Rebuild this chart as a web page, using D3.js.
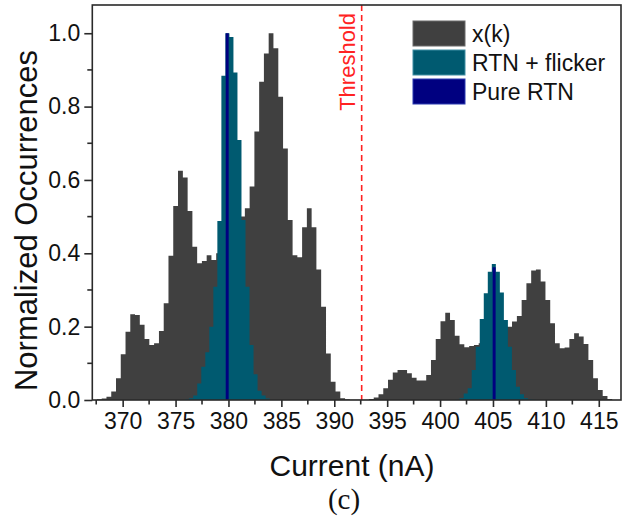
<!DOCTYPE html>
<html><head><meta charset="utf-8">
<script src="https://cdn.jsdelivr.net/npm/d3@7"></script>
<style>body{margin:0;background:#fff} svg{display:block}</style>
</head><body><svg id="c" width="622" height="517"></svg>
<script>
// ---------------- data ----------------
const grayBinWidth = 0.451;
const grayBinStart = [
 367.57, 368.02, 368.47, 368.92, 369.37, 369.82, 370.27, 370.72, 371.17, 371.62,
 372.07, 372.52, 372.97, 373.43, 373.88, 374.33, 374.78, 375.23, 375.69, 376.14,
 376.59, 377.04, 377.49, 377.94, 378.39, 378.84, 379.29, 379.74, 380.20, 380.65,
 381.10, 381.55, 382.00, 382.45, 382.90, 383.35, 383.80, 384.25, 384.71, 385.16,
 385.61, 386.06, 386.51, 386.96, 387.41, 387.86, 388.31, 388.76, 389.22, 389.67,
 390.12, 390.57, 391.02, 391.47, 391.92, 392.37, 392.82, 393.27, 393.73, 394.18,
 394.63, 395.08, 395.53, 395.98, 396.43, 396.88, 397.33, 397.78, 398.24, 398.69,
 399.14, 399.59, 400.04, 400.49, 400.94, 401.39, 401.84, 402.29, 402.75, 403.20,
 403.65, 404.10, 404.55, 405.00, 405.45, 405.90, 406.35, 406.80, 407.26, 407.71,
 408.16, 408.61, 409.06, 409.51, 409.96, 410.41, 410.86, 411.31, 411.77, 412.22,
 412.67, 413.12, 413.57, 414.02, 414.47, 414.92, 415.37, 415.82];
const grayValue = [
 0.002, 0.004, 0.009, 0.023, 0.059, 0.125, 0.186, 0.234, 0.232, 0.205,
 0.166, 0.150, 0.155, 0.188, 0.264, 0.393, 0.529, 0.625, 0.607, 0.515,
 0.418, 0.373, 0.379, 0.395, 0.382, 0.400, 0.420, 0.440, 0.460, 0.480,
 0.500, 0.523, 0.582, 0.732, 0.868, 0.945, 1.000, 0.959, 0.827, 0.686,
 0.491, 0.395, 0.389, 0.471, 0.523, 0.471, 0.356, 0.254, 0.127, 0.050,
 0.023, 0.005, 0.002, 0.001, 0.001, 0.001, 0.001, 0.003, 0.007, 0.016,
 0.032, 0.055, 0.075, 0.082, 0.082, 0.073, 0.061, 0.053, 0.053, 0.068,
 0.109, 0.166, 0.215, 0.238, 0.218, 0.175, 0.152, 0.144, 0.147, 0.150,
 0.155, 0.160, 0.170, 0.180, 0.190, 0.200, 0.200, 0.214, 0.229, 0.273,
 0.318, 0.353, 0.356, 0.323, 0.273, 0.209, 0.155, 0.141, 0.143, 0.166,
 0.182, 0.173, 0.153, 0.109, 0.059, 0.027, 0.011, 0.003];

const tealBinWidth = 0.38;
const tealBinStart = [
 375.91, 376.29, 376.67, 377.05, 377.43, 377.81, 378.19, 378.57, 378.95, 379.33,
 379.71, 380.09, 380.47, 380.85, 381.23, 381.61, 381.99, 382.37, 382.75, 383.13, 383.51,
 401.47, 401.85, 402.23, 402.61, 402.99, 403.37, 403.75, 404.13, 404.51, 404.89,
 405.27, 405.65, 406.03, 406.41, 406.79, 407.17, 407.55, 407.93, 408.31, 408.69];
const tealValue = [
 0.002, 0.005, 0.012, 0.045, 0.091, 0.130, 0.200, 0.309, 0.488, 0.884,
 1.000, 0.990, 0.893, 0.709, 0.491, 0.309, 0.150, 0.070, 0.025, 0.012, 0.004,
 0.001, 0.005, 0.018, 0.032, 0.082, 0.145, 0.221, 0.291, 0.350, 0.371,
 0.350, 0.293, 0.218, 0.145, 0.082, 0.036, 0.016, 0.005, 0.002, 0.001];

const navyBinWidth = 0.28;
const navyBinStart = [379.74, 404.97];
const navyValue = [1.000, 0.362];

const thresholdValue = 392.59;
const xTicks = [370, 375, 380, 385, 390, 395, 400, 405, 410, 415];
const xMinorTicks = [367.5, 372.5, 377.5, 382.5, 387.5, 392.5, 397.5, 402.5, 407.5, 412.5];
const yTicks = [0.0, 0.2, 0.4, 0.6, 0.8, 1.0];
const yMinorTicks = [0.1, 0.3, 0.5, 0.7, 0.9];
const legendLabels = ["x(k)", "RTN + flicker", "Pure RTN"];
const seriesColors = ["#404040", "#005a70", "#000080"];

// ---------------- chart ----------------
(function () {
const svg = d3.select("#c");
const pL = 92.3, pR = 621, pT = 5, pB = 400;
const x = d3.scaleLinear().domain([367.13, 417.1]).range([pL, pR]);
const y = d3.scaleLinear().domain([0, 1.077]).range([pB, pT]);
const SANS = "'Liberation Sans', Arial, Helvetica, sans-serif";

// histogram drawn as one step-area path per contiguous run of bins (no seams)
const area = d3.area().curve(d3.curveStepAfter)
  .x(d => x(d.x)).y0(y(0)).y1(d => y(d.v));
function drawHist(starts, values, width, color, cls) {
  const pts = [];
  starts.forEach((s, i) => {
    pts.push({x: s, v: values[i]});
    const end = s + width;
    const next = starts[i + 1];
    if (next === undefined || next - end > 0.01) {
      pts.push({x: end, v: 0});
    }
  });
  // split into runs at zero-closing points
  const runs = [];
  let cur = [];
  pts.forEach(p => {
    cur.push(p);
    if (p.v === 0) { runs.push(cur); cur = []; }
  });
  svg.append("g").attr("class", cls).selectAll("path").data(runs).join("path")
    .attr("d", r => area(r)).attr("fill", color);
}
drawHist(grayBinStart, grayValue, grayBinWidth, seriesColors[0], "gray");
drawHist(tealBinStart, tealValue, tealBinWidth, seriesColors[1], "teal");
drawHist(navyBinStart, navyValue, navyBinWidth, seriesColors[2], "navy");

// threshold
svg.append("line")
  .attr("x1", x(thresholdValue)).attr("x2", x(thresholdValue))
  .attr("y1", y(1.077)).attr("y2", y(0))
  .attr("stroke", "#ff2222").attr("stroke-width", 1.6)
  .attr("stroke-dasharray", "6,4");
svg.append("text")
  .attr("transform", `translate(${x(thresholdValue) - 7},13) rotate(-90)`)
  .attr("text-anchor", "end")
  .attr("font-family", SANS).attr("font-size", 22)
  .attr("fill", "#ff2222").text("Threshold");

// frame
svg.append("rect").attr("x", pL).attr("y", pT)
  .attr("width", pR - pL).attr("height", pB - pT)
  .attr("fill", "none").attr("stroke", "#2a2a2a").attr("stroke-width", 1.6);

// x axis
const xAxis = d3.axisBottom(x).tickValues(xTicks).tickSize(7).tickPadding(6)
  .tickFormat(d3.format("d"));
const gx = svg.append("g").attr("transform", `translate(0,${pB})`).call(xAxis);
gx.select(".domain").remove();
gx.selectAll(".tick line").attr("stroke", "#2a2a2a").attr("stroke-width", 1.6);
gx.selectAll(".tick text").attr("font-family", SANS).attr("font-size", 23).attr("fill", "#111");
svg.append("g").selectAll("line").data(xMinorTicks).join("line")
  .attr("x1", d => x(d)).attr("x2", d => x(d))
  .attr("y1", pB).attr("y2", pB + 4.5)
  .attr("stroke", "#2a2a2a").attr("stroke-width", 1.6);

// y axis
const yAxis = d3.axisLeft(y).tickValues(yTicks).tickSize(8).tickPadding(4)
  .tickFormat(d3.format(".1f"));
const gy = svg.append("g").attr("transform", `translate(${pL},0)`).call(yAxis);
gy.select(".domain").remove();
gy.selectAll(".tick line").attr("stroke", "#2a2a2a").attr("stroke-width", 1.6);
gy.selectAll(".tick text").attr("font-family", SANS).attr("font-size", 23).attr("fill", "#111");
svg.append("g").selectAll("line").data(yMinorTicks).join("line")
  .attr("x1", pL - 5).attr("x2", pL)
  .attr("y1", d => y(d)).attr("y2", d => y(d))
  .attr("stroke", "#2a2a2a").attr("stroke-width", 1.6);

// axis titles
svg.append("text")
  .attr("x", 352).attr("y", 476).attr("text-anchor", "middle")
  .attr("font-family", SANS).attr("font-size", 30).attr("fill", "#111")
  .text("Current (nA)");
svg.append("text")
  .attr("transform", `translate(37,${(pT + pB) / 2 + 18}) rotate(-90)`)
  .attr("text-anchor", "middle")
  .attr("font-family", SANS).attr("font-size", 31).attr("fill", "#111")
  .text("Normalized Occurrences");
svg.append("text")
  .attr("x", 344).attr("y", 509).attr("text-anchor", "middle")
  .attr("font-family", "'Liberation Serif', 'Times New Roman', serif")
  .attr("font-size", 29).attr("fill", "#111")
  .text("(c)");

// legend
const lg = svg.append("g").attr("transform", "translate(413,21)");
legendLabels.forEach((lab, i) => {
  lg.append("rect").attr("x", 0).attr("y", i * 29)
    .attr("width", 52).attr("height", 25)
    .attr("fill", seriesColors[i])
    .attr("stroke", i === 0 ? "#6a6a6a" : (i === 1 ? "#3f8ea3" : "#2a3ab0"))
    .attr("stroke-width", 1);
  lg.append("text").attr("x", 59).attr("y", i * 29 + 21)
    .attr("font-family", SANS).attr("font-size", 23).attr("fill", "#111")
    .text(lab);
});
})();
</script>
</body></html>
